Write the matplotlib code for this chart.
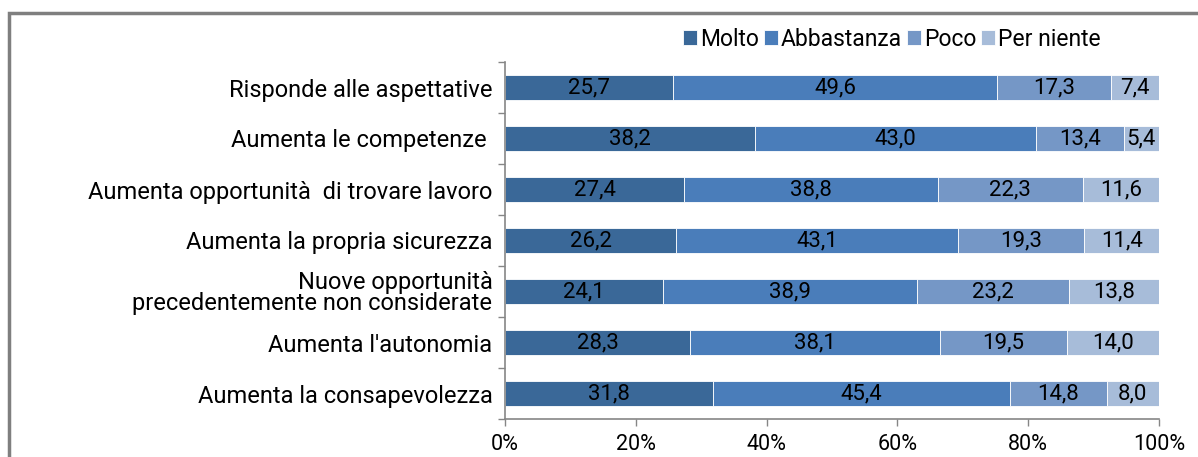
import numpy as np
import matplotlib
matplotlib.use('Agg')
from matplotlib import pyplot as plt
from matplotlib.patches import Rectangle

plt.rcParams['font.family'] = ['Roboto', 'DejaVu Sans']

categorie = ['Risponde alle aspettative',
             'Aumenta le competenze ',
             'Aumenta opportunità  di trovare lavoro',
             'Aumenta la propria sicurezza',
             'Nuove opportunità\nprecedentemente non considerate',
             "Aumenta l'autonomia",
             'Aumenta la consapevolezza']
serie = ['Molto', 'Abbastanza', 'Poco', 'Per niente']
molto = [25.7, 38.2, 27.4, 26.2, 24.1, 28.3, 31.8]
abbastanza = [49.6, 43.0, 38.8, 43.1, 38.9, 38.1, 45.4]
poco = [17.3, 13.4, 22.3, 19.3, 23.2, 19.5, 14.8]
per_niente = [7.4, 5.4, 11.6, 11.4, 13.8, 14.0, 8.0]
xtick_lab = ['0%', '20%', '40%', '60%', '80%', '100%']

colori = ['#3a6898', '#4a7dba', '#7597c6', '#a7bcd9']
num_font = ['Liberation Sans Narrow', 'Roboto', 'DejaVu Sans']

dati = np.array([molto, abbastanza, poco, per_niente])
perc = dati / dati.sum(axis=0) * 100  # grafico 100% in pila

fig = plt.figure(figsize=(11.98, 4.57), dpi=100)
ax = fig.add_axes([505/1198, 1-419/457, (1159-505)/1198, (419-62)/457])

y = np.arange(len(categorie))
left = np.zeros(len(categorie))
handles = []
for i, nome in enumerate(serie):
    b = ax.barh(y, perc[i], left=left, height=0.5, color=colori[i],
                edgecolor='white', linewidth=0.6, label=nome)
    handles.append(b)
    for j in range(len(categorie)):
        ax.text(left[j]+perc[i][j]/2, y[j], f'{dati[i][j]:.1f}'.replace('.', ','),
                ha='center', va='center', fontsize=16, family=num_font, color='black')
    left += perc[i]

ax.set_xlim(0, 100)
ax.set_ylim(len(categorie)-0.5, -0.5)
ax.set_yticks(y)
ax.set_yticklabels(categorie, fontsize=17, linespacing=0.9)
ax.set_yticks(np.arange(-0.5, len(categorie)), minor=True)
ax.tick_params(axis='y', which='major', length=0, pad=9)
ax.tick_params(axis='y', which='minor', length=5, color='#868686', width=1)
ax.set_xticks(np.arange(0, 101, 20))
ax.set_xticklabels(xtick_lab, fontsize=15.5, family=num_font)
ax.tick_params(axis='x', length=5, color='#868686', width=1, pad=6)
for s in ['top', 'right']:
    ax.spines[s].set_visible(False)
for s in ['left', 'bottom']:
    ax.spines[s].set_color('#868686')
    ax.spines[s].set_linewidth(1.2)

fig.legend(handles=handles, loc='center', bbox_to_anchor=(892/1198, 1-39/457),
           ncol=4, frameon=False, fontsize=16.5, handlelength=0.6, handleheight=0.6,
           handletextpad=0.15, columnspacing=0.2, borderpad=0)

# cornice del grafico
fig.patches.append(Rectangle((9/1198, -0.1), 1.2, 1-13/457+0.1, transform=fig.transFigure,
                             fill=False, edgecolor='#7f7f7f', linewidth=2.5))

fig.savefig('out.png', dpi=100)
